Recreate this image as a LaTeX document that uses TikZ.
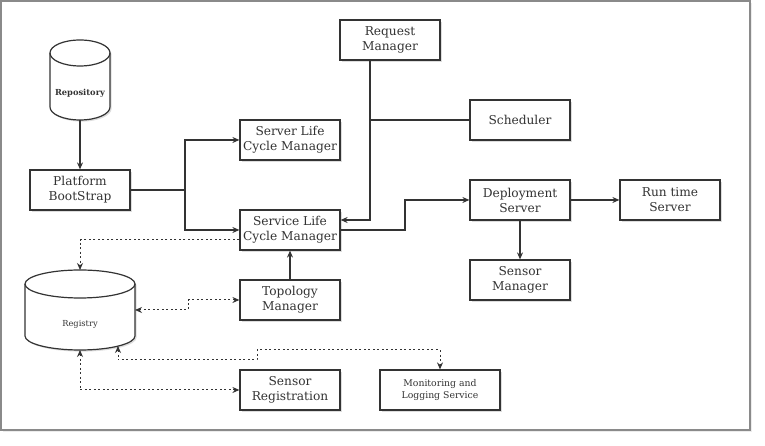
\documentclass[tikz,border=0pt]{standalone}
\usepackage{fontspec}
\setmainfont{DejaVu Serif}
\usetikzlibrary{arrows.meta,shadows}
\definecolor{ink}{HTML}{333333}
\definecolor{framec}{HTML}{8A8A8A}
\begin{document}
\begin{tikzpicture}[x=1pt,y=1pt,
  shd/.style={drop shadow={shadow xshift=1.6pt,shadow yshift=-1.6pt,opacity=0.22,fill=black!60}},
  box/.style={draw=ink,line width=1.2pt,fill=white,shd,minimum width=100pt,minimum height=40pt,
    inner sep=0pt,align=center,text=ink,font=\fontsize{12.2}{15}\selectfont},
  smallbox/.style={box,minimum width=120pt,font=\fontsize{9.3}{12}\selectfont},
  cyl/.style={draw=ink,line width=1.2pt,fill=white,shd},
  arr/.style={draw=ink,line width=1.1pt,-{Stealth[length=7pt,width=6pt]}},
  dot/.style={draw=ink,line width=1pt,dash pattern=on 2pt off 2.5pt},
  darr/.style={dot,-{Stealth[length=7pt,width=6pt]}},
  dboth/.style={dot,{Stealth[length=7pt,width=6pt]}-{Stealth[length=7pt,width=6pt]}},
  ln/.style={draw=ink,line width=1.1pt}]
\useasboundingbox (0,0) rectangle (765,446);
% frame
\draw[framec,line width=1.5pt,fill=white,drop shadow={shadow xshift=2pt,shadow yshift=-2pt,opacity=0.15}] (1,445) rectangle (750,16);

% Repository cylinder
\path[cyl] (50,393) -- (50,339) arc[start angle=180,end angle=360,x radius=30,y radius=13] -- (110,393) arc[start angle=0,end angle=180,x radius=30,y radius=13] -- cycle;
\draw[ink,line width=1.2pt] (50,393) arc[start angle=180,end angle=360,x radius=30,y radius=13];
\node[text=ink,font=\fontsize{8.3}{10}\selectfont\bfseries] (repo) at (80,353) {Repository};
\coordinate (repoB) at (80,326);

% Registry cylinder
\path[cyl] (25,162) -- (25,110) arc[start angle=180,end angle=360,x radius=55,y radius=14] -- (135,162) arc[start angle=0,end angle=180,x radius=55,y radius=14] -- cycle;
\draw[ink,line width=1.2pt] (25,162) arc[start angle=180,end angle=360,x radius=55,y radius=14];
\node[text=ink,font=\fontsize{8.3}{10}\selectfont] (reg) at (80,122) {Registry};
\coordinate (regT) at (80,176);
\coordinate (regR) at (135,136);
\coordinate (regB) at (80,96);
\coordinate (regB2) at (118,100);

% boxes
\node[box] (plat) at (80,256) {Platform\\BootStrap};
\node[box] (srvlc) at (290,306) {Server Life\\Cycle Manager};
\node[box] (svclc) at (290,216) {Service Life\\Cycle Manager};
\node[box] (req) at (390,406) {Request\\Manager};
\node[box] (sched) at (520,326) {Scheduler};
\node[box] (dep) at (520,246) {Deployment\\Server};
\node[box] (run) at (670,246) {Run time\\Server};
\node[box] (sensm) at (520,166) {Sensor\\Manager};
\node[box] (topo) at (290,146) {Topology\\Manager};
\node[box] (sensr) at (290,56) {Sensor\\Registration};
\node[smallbox] (mon) at (440,56) {Monitoring and\\Logging Service};

% solid connectors
\draw[arr] (repoB) -- (plat.north);
\coordinate (j1) at (185,256);
\draw[ln] (plat.east) -- (j1);
\draw[arr] (j1) |- (srvlc.west);
\draw[arr] (j1) |- (svclc.west);
\coordinate (reqS) at (370,386);
\coordinate (j2) at (370,326);
\draw[arr] (reqS) |- ([yshift=10pt]svclc.east);
\draw[ln] (sched.west) -- (j2);
\coordinate (j3) at (405,216);
\draw[arr] (svclc.east) -- (j3) |- (dep.west);
\draw[arr] (dep.east) -- (run.west);
\draw[arr] (dep.south) -- (sensm.north);
\draw[arr] (topo.north) -- (svclc.south);

% dotted connectors
\draw[darr] ([yshift=-10pt]svclc.west) -| (regT);
\coordinate (j4) at (188,136);
\draw[dboth] (regR) -- (j4) |- (topo.west);
\coordinate (j5) at (118,86);
\coordinate (j6) at (257,86);
\coordinate (j7) at (257,96);
\draw[dboth] (regB2) -- (j5) -- (j6) -- (j7) -| (mon.north);
\draw[dboth] (regB) |- (sensr.west);
\end{tikzpicture}
\end{document}
